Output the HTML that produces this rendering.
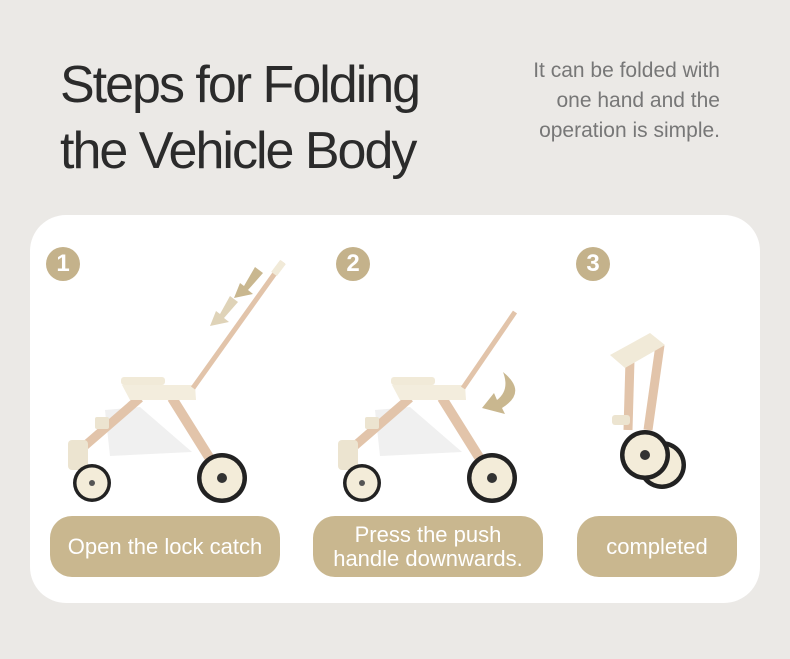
<!DOCTYPE html>
<html><head><style>
body{margin:0;width:790px;height:659px;background:#ebe9e6;font-family:"Liberation Sans",sans-serif;position:relative;overflow:hidden}
.t{position:absolute;left:60px;top:52px;font-size:52px;line-height:66px;color:#2b2b2b;letter-spacing:-2px}
.s{position:absolute;right:70px;top:56px;text-align:right;font-size:21px;line-height:30px;color:#777}
.card{position:absolute;left:30px;top:215px;width:730px;height:388px;background:#fff;border-radius:36px}
.n{position:absolute;width:34px;height:34px;border-radius:50%;background:#c4b28b;color:#fff;font-size:24px;font-weight:bold;text-align:center;line-height:34px;top:247px}
.p{position:absolute;top:516px;height:61px;border-radius:22px;background:#c9b78f;color:#fff;font-size:22px;display:flex;align-items:center;justify-content:center;text-align:center;line-height:24px}
</style></head><body>
<div class="t">Steps for Folding<br>the Vehicle Body</div>
<div class="s">It can be folded with<br>one hand and the<br>operation is simple.</div>
<div class="card"></div>
<div class="n" style="left:46px">1</div>
<div class="n" style="left:336px">2</div>
<div class="n" style="left:576px">3</div>
<svg width="790" height="659" style="position:absolute;left:0;top:0">
<defs>
<g id="base">
<polygon points="105,410 140,407 192,452 110,456" fill="#f0f0f0"/>
<line x1="140" y1="398" x2="80" y2="450" stroke="#e2c4aa" stroke-width="9"/>
<line x1="172" y1="398" x2="217" y2="470" stroke="#e2c4aa" stroke-width="10"/>
<rect x="121" y="377" width="44" height="8" rx="3" fill="#f1ead8"/>
<path d="M122 385 H195 L196 400 H130 Z" fill="#f3eddd"/>
<rect x="68" y="440" width="20" height="30" rx="4" fill="#ece4d0"/>
<rect x="95" y="417" width="14" height="12" rx="2" fill="#ece4d0"/>
<circle cx="92" cy="483" r="19" fill="#222"/><circle cx="92" cy="483" r="15.5" fill="#f3ecd9"/><circle cx="92" cy="483" r="3" fill="#555"/>
<circle cx="222" cy="478" r="25" fill="#222"/><circle cx="222" cy="478" r="20.5" fill="#f3ecd9"/><circle cx="222" cy="478" r="5" fill="#333"/>
</g>
</defs>
<use href="#base"/>
<line x1="283" y1="262" x2="193" y2="388" stroke="#e2c4aa" stroke-width="5"/>
<line x1="283" y1="262" x2="274" y2="274" stroke="#f1ead8" stroke-width="7"/>
<polygon points="255,267 263,273 248,290 253,294 234,298 240,283 244,286" fill="#c9b78f"/>
<polygon points="230,296 238,302 224,318 229,322 210,326 216,311 220,314" fill="#dfd3b8"/>
<use href="#base" transform="translate(270,0)"/>
<line x1="515" y1="312" x2="463" y2="388" stroke="#e2c4aa" stroke-width="5"/>
<path d="M503 372 Q528 392 502 408 L505 414 L482 408 L494 393 L497 400 Q510 390 503 372Z" fill="#c9b78f"/>
<line x1="630" y1="360" x2="628" y2="430" stroke="#e2c4aa" stroke-width="9"/>
<line x1="660" y1="345" x2="648" y2="430" stroke="#e2c4aa" stroke-width="9"/>
<polygon points="610,355 650,333 665,345 625,368" fill="#f1ead8"/>
<circle cx="662" cy="465" r="24" fill="#222"/><circle cx="662" cy="465" r="19.5" fill="#f3ecd9"/>
<circle cx="645" cy="455" r="25" fill="#222"/><circle cx="645" cy="455" r="20.5" fill="#f3ecd9"/><circle cx="645" cy="455" r="5" fill="#333"/>
<rect x="612" y="415" width="18" height="10" rx="3" fill="#ece4d0"/>
</svg>
<div class="p" style="left:50px;width:230px">Open the lock catch</div>
<div class="p" style="left:313px;width:230px">Press the push<br>handle downwards.</div>
<div class="p" style="left:577px;width:160px">completed</div>
</body></html>
